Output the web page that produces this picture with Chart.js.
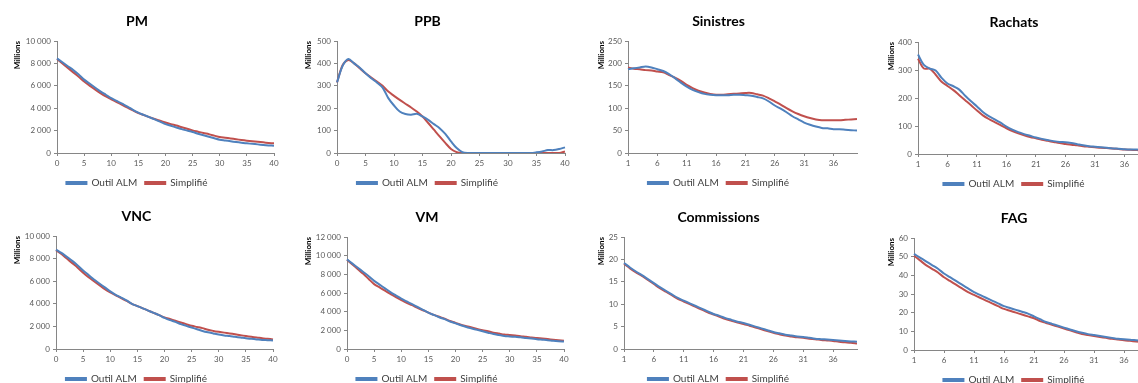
<!DOCTYPE html>
<html>
<head>
<meta charset="utf-8">
<script src="https://cdn.jsdelivr.net/npm/chart.js@4"></script>
<style>
    body { margin: 0; background: #fff; width: 1138px; height: 383px; overflow: hidden; position: relative; }
    canvas { position: absolute; }
</style>
</head>
<body>
<canvas id="pm"></canvas>
<canvas id="ppb"></canvas>
<canvas id="sinistres"></canvas>
<canvas id="rachats"></canvas>
<canvas id="vnc"></canvas>
<canvas id="vm"></canvas>
<canvas id="commissions"></canvas>
<canvas id="fag"></canvas>
<script>
// annees de projection
const anneesDe0 = ['0','1','2','3','4','5','6','7','8','9','10','11','12','13','14','15','16','17','18','19','20',
    '21','22','23','24','25','26','27','28','29','30','31','32','33','34','35','36','37','38','39','40'];
const anneesDe1 = ['1','2','3','4','5','6','7','8','9','10','11','12','13','14','15','16','17','18','19','20',
    '21','22','23','24','25','26','27','28','29','30','31','32','33','34','35','36','37','38','39','40'];

const seriesNames = ['Outil ALM', 'Simplifié'];

// PM
const pmOutil = [8450, 8100, 7750, 7400, 7000, 6550, 6200, 5850, 5500, 5200, 4900, 4650, 4400, 4150, 3850,
    3600, 3400, 3200, 3000, 2800, 2580, 2430, 2280, 2130, 2000, 1870, 1720, 1580, 1450, 1320,
    1190, 1120, 1050, 980, 920, 860, 820, 770, 720, 680, 650];
const pmSimpl = [8400, 8000, 7600, 7200, 6800, 6380, 6020, 5680, 5350, 5050, 4800, 4550, 4300, 4050, 3800,
    3560, 3380, 3200, 3030, 2880, 2730, 2580, 2450, 2300, 2160, 2020, 1900, 1780, 1680, 1550,
    1420, 1360, 1300, 1230, 1160, 1100, 1050, 1000, 950, 900, 860];

// PPB
const ppbOutil = [315, 390, 420, 400, 381, 356, 334, 315, 292, 245, 212, 185, 174, 171, 175,
    163, 148, 129, 111, 85, 52, 22, 4, 0, 0, 0, 0, 0, 0, 0,
    0, 0, 0, 0, 0, 3, 7, 13, 13, 18, 25];
const ppbSimpl = [315, 393, 415, 400, 378, 356, 337, 319, 300, 274, 255, 237, 220, 203, 185,
    163, 134, 104, 74, 45, 18, 4, 0, 0, 0, 0, 0, 0, 0, 0,
    0, 0, 0, 0, 0, 0, 0, 0, 0, 0, 7];

// Sinistres
const sinOutil = [187, 189, 191, 193, 191, 187, 183, 176, 167, 157, 148, 141, 136, 132, 130,
    129, 129, 129, 130, 130, 129, 128, 125, 122, 115, 106, 99, 91, 82, 75,
    68, 63, 59, 56, 55, 53, 53, 52, 51, 50];
const sinSimpl = [191, 188, 187, 185, 184, 182, 180, 174, 168, 161, 152, 145, 139, 135, 132,
    130, 130, 131, 132, 133, 134, 134, 131, 128, 122, 115, 108, 100, 93, 87,
    82, 78, 75, 73, 73, 73, 73, 74, 75, 76];

// Rachats
const rachOutil = [355, 318, 305, 298, 272, 252, 242, 230, 208, 188, 170, 150, 135, 124, 112,
    98, 87, 78, 71, 65, 59, 54, 50, 46, 43, 42, 39, 35, 31, 28,
    26, 24, 22, 20, 19, 17, 16, 16, 15, 14];
const rachSimpl = [340, 305, 305, 283, 258, 243, 228, 210, 192, 174, 155, 138, 125, 114, 103,
    92, 82, 74, 67, 61, 56, 51, 47, 43, 39, 36, 33, 31, 28, 26,
    24, 22, 21, 20, 18, 16, 15, 14, 13, 12];

// VNC
const vncOutil = [8800, 8500, 8150, 7800, 7400, 6950, 6550, 6150, 5800, 5450, 5100, 4800, 4550, 4300, 4000,
    3800, 3600, 3400, 3200, 3000, 2750, 2550, 2400, 2200, 2050, 1900, 1750, 1600, 1480, 1380,
    1280, 1200, 1150, 1080, 1020, 950, 900, 850, 800, 780, 750];
const vncSimpl = [8750, 8400, 8000, 7600, 7200, 6750, 6350, 6000, 5650, 5300, 5000, 4750, 4500, 4250, 4000,
    3800, 3600, 3400, 3200, 3000, 2800, 2650, 2500, 2350, 2200, 2050, 1950, 1850, 1700, 1600,
    1520, 1450, 1380, 1300, 1220, 1150, 1080, 1020, 950, 900, 850];

// VM
const vmOutil = [9600, 9150, 8700, 8250, 7800, 7300, 6900, 6500, 6100, 5750, 5400, 5100, 4800, 4500, 4200,
    3900, 3650, 3400, 3200, 2950, 2750, 2550, 2350, 2200, 2050, 1900, 1750, 1600, 1500, 1400,
    1350, 1300, 1250, 1180, 1120, 1050, 1000, 950, 880, 830, 800];
const vmSimpl = [9550, 9050, 8550, 8050, 7500, 6950, 6600, 6250, 5900, 5550, 5250, 4950, 4700, 4400, 4150,
    3900, 3650, 3450, 3250, 3000, 2800, 2600, 2450, 2300, 2150, 2000, 1900, 1750, 1650, 1550,
    1500, 1440, 1380, 1300, 1240, 1170, 1120, 1060, 990, 930, 880];

// Commissions
const comOutil = [19.2, 18.2, 17.3, 16.5, 15.6, 14.7, 13.8, 13.0, 12.2, 11.4, 10.8, 10.2, 9.6, 9.0, 8.4,
    7.8, 7.4, 6.9, 6.5, 6.1, 5.8, 5.4, 5.0, 4.6, 4.2, 3.8, 3.5, 3.2, 3.0, 2.8,
    2.7, 2.5, 2.3, 2.2, 2.1, 2.0, 1.9, 1.8, 1.7, 1.6];
const comSimpl = [19.0, 18.0, 17.1, 16.3, 15.4, 14.5, 13.6, 12.8, 12.0, 11.2, 10.6, 10.0, 9.4, 8.8, 8.2,
    7.7, 7.2, 6.7, 6.3, 5.9, 5.6, 5.2, 4.8, 4.4, 4.0, 3.6, 3.3, 3.0, 2.8, 2.6,
    2.5, 2.3, 2.2, 2.0, 1.9, 1.8, 1.6, 1.5, 1.4, 1.2];

// FAG
const fagOutil = [51.5, 49.5, 47.5, 45.5, 43.5, 41, 39, 37, 35, 33, 31, 29.5, 28, 26.5, 25,
    23.5, 22.5, 21.5, 20.5, 19.5, 18, 16.5, 15, 14, 13, 12, 11, 10, 9.2, 8.5,
    8, 7.5, 7, 6.5, 6, 5.7, 5.5, 5.2, 4.9, 4.6];
const fagSimpl = [50.5, 48, 45.5, 43.5, 41.5, 39, 37, 35, 33, 31, 29.5, 28, 26.5, 25, 23.5,
    22, 21, 20, 19, 18, 17, 15.5, 14.5, 13.5, 12.5, 11.5, 10.5, 9.5, 8.5, 8,
    7.5, 7, 6.5, 6, 5.6, 5.2, 4.9, 4.6, 4.3, 4.0];

const BLUE = '#4F81BD';
const RED = '#C0504D';
const AXIS = '#868686';
const FONT = 'Lato';

const X_HEIGHT = 17;
const LEGEND_HEIGHT = 28;

function frNumber(v) {
    return String(v).replace(/\B(?=(\d{3})+(?!\d))/g, ' ');
}

function makeChart(id, title, labels, outil, simpl, yMax, yStep, box) {
    const canvas = document.getElementById(id);
    const height = box.b - box.top + X_HEIGHT + LEGEND_HEIGHT;
    canvas.width = box.w;
    canvas.height = height;
    canvas.style.left = box.left + 'px';
    canvas.style.top = box.top + 'px';

    return new Chart(canvas.getContext('2d'), {
        type: 'line',
        data: {
            labels: labels,
            datasets: [{
                label: seriesNames[0],
                data: outil,
                borderColor: BLUE,
                backgroundColor: BLUE,
                borderWidth: 2,
                pointRadius: 0,
                tension: 0.3
            }, {
                label: seriesNames[1],
                data: simpl,
                borderColor: RED,
                backgroundColor: RED,
                borderWidth: 2,
                pointRadius: 0,
                tension: 0.3
            }]
        },
        options: {
            responsive: false,
            animation: false,
            devicePixelRatio: 1,
            layout: {
                padding: { left: 0, top: 0, bottom: 0, right: box.left + box.w - box.r }
            },
            plugins: {
                title: {
                    display: true,
                    text: title,
                    color: '#000',
                    font: { family: FONT, size: 14, weight: 'bold', lineHeight: '18px' },
                    padding: { top: box.t - box.top - 29, bottom: 11 }
                },
                legend: {
                    position: 'bottom',
                    labels: {
                        boxWidth: 20,
                        boxHeight: 2,
                        padding: 8,
                        color: '#404040',
                        font: { family: FONT, size: 10 }
                    }
                },
                tooltip: { enabled: false }
            },
            scales: {
                x: {
                    grid: {
                        display: true,
                        drawOnChartArea: false,
                        tickLength: 3,
                        tickColor: ctx => ctx.index % 5 === 0 ? AXIS : 'rgba(0,0,0,0)'
                    },
                    border: { color: AXIS, width: 1 },
                    ticks: {
                        autoSkip: false,
                        maxRotation: 0,
                        minRotation: 0,
                        padding: 3,
                        color: '#595959',
                        font: { family: FONT, size: 8 },
                        callback: function(value, index) {
                            return index % 5 === 0 ? this.getLabelForValue(value) : '';
                        }
                    },
                    afterFit: scale => { scale.height = X_HEIGHT; }
                },
                y: {
                    min: 0,
                    max: yMax,
                    grid: {
                        display: true,
                        drawOnChartArea: false,
                        tickLength: 3,
                        tickColor: AXIS
                    },
                    border: { color: AXIS, width: 1 },
                    ticks: {
                        stepSize: yStep,
                        padding: 3,
                        color: '#595959',
                        font: { family: FONT, size: 8 },
                        callback: v => frNumber(v)
                    },
                    title: {
                        display: true,
                        text: 'Millions',
                        align: 'end',
                        color: '#000',
                        font: { family: FONT, size: 8, weight: 'bold' },
                        padding: { top: box.mx - box.left - 5, bottom: 0 }
                    },
                    afterFit: scale => { scale.width = box.l - box.left; }
                }
            }
        }
    });
}

window.onload = function() {
    makeChart('pm', 'PM', anneesDe0, pmOutil, pmSimpl, 10000, 2000,
        { left: 0, w: 290, top: 0, l: 57, t: 41, r: 274, b: 153, mx: 18 });
    makeChart('ppb', 'PPB', anneesDe0, ppbOutil, ppbSimpl, 500, 100,
        { left: 290, w: 290, top: 0, l: 337, t: 41, r: 565, b: 153, mx: 309 });
    makeChart('sinistres', 'Sinistres', anneesDe1, sinOutil, sinSimpl, 250, 50,
        { left: 580, w: 294, top: 0, l: 628, t: 41, r: 857, b: 153, mx: 602 });
    makeChart('rachats', 'Rachats', anneesDe1, rachOutil, rachSimpl, 400, 100,
        { left: 880, w: 276, top: 0, l: 918, t: 42, r: 1148, b: 154, mx: 892 });
    makeChart('vnc', 'VNC', anneesDe0, vncOutil, vncSimpl, 10000, 2000,
        { left: 0, w: 290, top: 192, l: 56, t: 236, r: 273, b: 349, mx: 18 });
    makeChart('vm', 'VM', anneesDe0, vmOutil, vmSimpl, 12000, 2000,
        { left: 290, w: 292, top: 192, l: 347, t: 237, r: 564, b: 349, mx: 309 });
    makeChart('commissions', 'Commissions', anneesDe1, comOutil, comSimpl, 25, 5,
        { left: 580, w: 294, top: 192, l: 624, t: 237, r: 857, b: 349, mx: 602 });
    makeChart('fag', 'FAG', anneesDe1, fagOutil, fagSimpl, 60, 10,
        { left: 880, w: 276, top: 192, l: 914, t: 238, r: 1148, b: 350, mx: 892 });
};
</script>
</body>
</html>
